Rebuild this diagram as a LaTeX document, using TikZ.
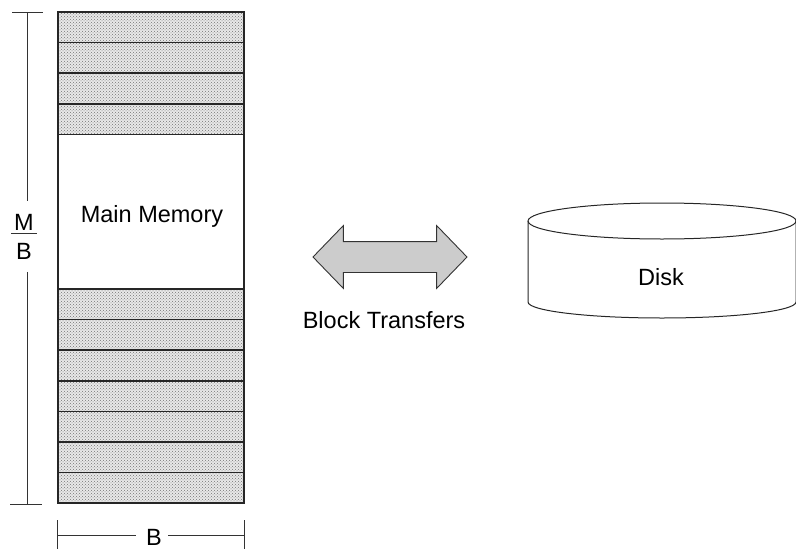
\documentclass[tikz,border=0pt]{standalone}
\usepackage{fontspec}
\setmainfont{Liberation Sans}
\usepackage{tikz}
\usetikzlibrary{positioning}
\usetikzlibrary{shapes.arrows, patterns}
\tikzset{
node distance = 12pt and 8pt,
   lbl/.style = {%
    inner sep=0pt,
    font=\fontsize{23.5}{23.5}\selectfont},
   blk/.style = {%
    preaction={fill=black!9},
    pattern=crosshatch dots,
    pattern color=black!55,
    draw=black!85,
    line width=1.6pt},
   dim/.style = {%
    draw=black!80,
    line width=0.9pt},
  xfer/.style = {%
    double arrow,
    draw=black!80,
    line width=0.9pt,
    fill=black!20,
    inner xsep=0pt,
    inner ysep=15pt,
    minimum height=154pt,
    double arrow head extend=16pt,
    double arrow tip angle=92},
  disk/.style = {%
    draw=black!85,
    line width=1pt},
    }

\begin{document}
\begin{tikzpicture}[x=1pt,y=-1pt]
            \useasboundingbox (0,0) rectangle (796,549);
            % memory column
            \foreach \i in {0,...,3}
                \path[blk] (58,12+30.6*\i) rectangle ++(186,30.6);
            \foreach \i in {0,...,6}
                \path[blk] (58,289+30.6*\i) rectangle ++(186,30.6);
            \node[draw=black!85, line width=1.2pt, inner sep=0pt,
                  minimum width=186pt, minimum height=491.2pt] (col) at (151,257.6) {};
            \node[lbl] (mm) at (152,216) {Main Memory};
            % M/B
            \coordinate (mbtop) at (27,12);
            \coordinate (mbbot) at (27,504);
            \node[lbl] (mnum) at (24,222) {M};
            \node[lbl, below=13pt of mnum] (bden) {B};
            \draw[dim] ([xshift=-3pt,yshift=-3pt]mnum.south west) -- ([xshift=3pt,yshift=-3pt]mnum.south east);
            \draw[dim] (mbtop) -- ([yshift=13pt]mnum.north -| mbtop);
            \draw[dim] ([yshift=-12pt]bden.south -| mbbot) -- (mbbot);
            \draw[dim] ([xshift=-15pt]mbtop) -- ([xshift=16pt]mbtop);
            \draw[dim] ([xshift=-17pt]mbbot) -- ([xshift=15pt]mbbot);
            % B
            \coordinate (bl) at (col.south west |- 0,535);
            \coordinate (br) at (col.south east |- 0,535);
            \node[lbl] (bw) at (154,537) {B};
            \draw[dim] (bl) -- ([xshift=-10pt]bw.west |- bl);
            \draw[dim] ([xshift=6pt]bw.east |- br) -- (br);
            \draw[dim] ([yshift=15pt]bl) -- ([yshift=-16pt]bl);
            \draw[dim] ([yshift=15pt]br) -- ([yshift=-16pt]br);
            % transfers
            \node[xfer] (xf) at (390,257) {};
            \node[lbl] (bt) at (384,320) {Block Transfers};
            % disk
            \coordinate (dtop) at (662,221);
            \coordinate (dbot) at (662,302);
            \node[lbl] (dk) at (661,277) {Disk};
            \draw[disk] (dtop) ellipse [x radius=134pt, y radius=18pt];
            \draw[disk] ([xshift=-134pt]dtop) -- ([xshift=-134pt]dbot)
                arc [start angle=180, end angle=360, x radius=134pt, y radius=16pt]
                -- ([xshift=134pt]dtop);
        \end{tikzpicture}
\end{document}
